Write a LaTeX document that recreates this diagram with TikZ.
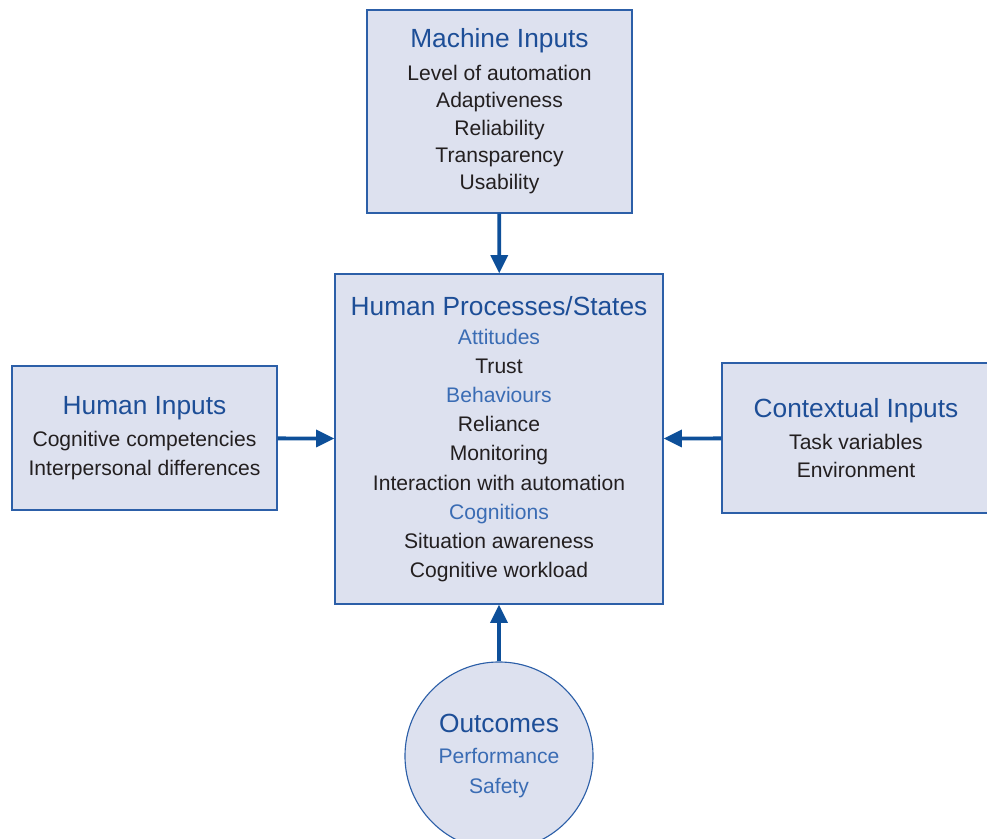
\documentclass[tikz,border=0pt]{standalone}
\usepackage{fontspec}
\setmainfont{Liberation Sans}
\usetikzlibrary{arrows.meta, positioning}
\definecolor{boxfill}{HTML}{DDE1EF}
\definecolor{boxline}{HTML}{2C5FA8}
\definecolor{headblue}{HTML}{1D4E97}
\definecolor{subblue}{HTML}{3A6CB4}
\definecolor{arrowblue}{HTML}{0D4F99}
\definecolor{bodytext}{HTML}{231F20}
\newcommand{\boxtitle}[1]{{\fontsize{18.7}{20}\selectfont\color{headblue}#1}}
\newcommand{\boxsub}[1]{{\color{subblue}#1}}

\begin{document}
\begin{tikzpicture}[x=0.025cm, y=-0.025cm,
    inbox/.style={draw=boxline, fill=boxfill, thick, rectangle, align=center, inner sep=0pt,
        text=bodytext, font=\fontsize{15}{20}\selectfont},
    outcircle/.style={inbox, circle, minimum size=4.7cm},
    flow/.style={draw=arrowblue, line width=2.7pt, -{Triangle[length=13pt, width=12pt]}}
]
    \useasboundingbox (0,0) rectangle (987,839);

    % boxes
    \node[inbox, minimum width=8.2cm, minimum height=8.25cm,
          font=\fontsize{15}{20.7}\selectfont] (proc) at (499,439)
        {\boxtitle{Human Processes/States}\\[0pt]
         \boxsub{Attitudes}\\ Trust\\ \boxsub{Behaviours}\\ Reliance\\ Monitoring\\
         Interaction with automation\\ \boxsub{Cognitions}\\ Situation awareness\\ Cognitive workload};
    \node[inbox, minimum width=6.625cm, minimum height=5.075cm] (machine) at (499.5,111.5)
        {\boxtitle{Machine Inputs}\\[3pt]
         Level of automation\\[-0.5pt] Adaptiveness\\[-0.5pt] Reliability\\[-0.5pt] Transparency\\[-0.5pt] Usability};
    \node[inbox, minimum width=6.625cm, minimum height=3.6cm] (human) at (144.5,438)
        {\boxtitle{Human Inputs}\\[3pt] Cognitive competencies\\ Interpersonal differences};
    \node[inbox, minimum width=6.7cm, minimum height=3.75cm] (context) at (856,438)
        {\boxtitle{Contextual Inputs}\\[3pt] Task variables\\ Environment};
    \node[outcircle] (outcome) at (499,756)
        {\boxtitle{Outcomes}\\[2pt] \boxsub{Performance}\\[1pt] \boxsub{Safety}};

    % arrows into the centre box
    \draw[flow] (machine) -- (proc);
    \draw[flow] (human) -- (proc);
    \draw[flow] (context) -- (proc);
    \draw[flow] (outcome) -- (proc);
\end{tikzpicture}
\end{document}
